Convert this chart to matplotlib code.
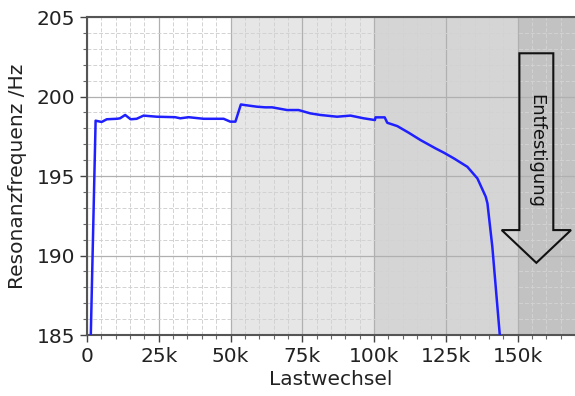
import matplotlib
matplotlib.use("Agg")
import matplotlib.pyplot as plt
from matplotlib.patches import FancyArrow
from matplotlib.ticker import MultipleLocator

# -------------------------------------------------
# Data
# -------------------------------------------------

lastwechsel = [
    1200, 3000, 5100, 6900, 10400, 11500, 13300, 15200, 17300, 19700,
    24300, 30700, 32500, 35400, 40600, 47600, 49900, 51700, 53600, 56300,
    59200, 62100, 64500, 69700, 73700, 77800, 81300, 87100, 91800, 96400,
    100300, 100500, 103700, 104600, 108100, 112100, 116200, 121400, 124300,
    127800, 132500, 136000, 138900, 139500, 141200, 143800, 144300,
]
frequenz = [
    184.0, 198.48, 198.40, 198.57, 198.60, 198.63, 198.84, 198.57, 198.60, 198.80,
    198.73, 198.70, 198.63, 198.70, 198.60, 198.60, 198.42, 198.42, 199.50, 199.43,
    199.36, 199.32, 199.32, 199.15, 199.15, 198.94, 198.84, 198.73, 198.80, 198.63,
    198.52, 198.69, 198.69, 198.35, 198.14, 197.72, 197.26, 196.74, 196.47,
    196.11, 195.58, 194.85, 193.70, 193.28, 190.55, 185.0, 184.0,
]

# shaded phases (start, end, colour)
phase_edges = [50000, 100000, 150000, 170000]
phase_colors = ["#e6e6e6", "#d5d5d5", "#c2c2c2"]

xticks = [0, 25000, 50000, 75000, 100000, 125000, 150000]
xtick_labels = ["0", "25k", "50k", "75k", "100k", "125k", "150k"]
yticks = [185, 190, 195, 200, 205]

# -------------------------------------------------
# Figure
# -------------------------------------------------

fig = plt.figure(figsize=(5.75, 3.96), dpi=100)
ax = fig.add_axes([0.1513, 0.154, 0.8487, 0.803])

for i, c in enumerate(phase_colors):
    ax.axvspan(phase_edges[i], phase_edges[i + 1], color=c, lw=0, zorder=0)

ax.plot(lastwechsel, frequenz, color="#2020ff", lw=1.8, zorder=3)

ax.set_xlim(0, 170000)
ax.set_ylim(185, 205)
ax.set_xticks(xticks)
ax.set_xticklabels(xtick_labels)
ax.set_yticks(yticks)
ax.xaxis.set_minor_locator(MultipleLocator(5000))
ax.yaxis.set_minor_locator(MultipleLocator(1))

ax.grid(which="major", color="#b0b0b0", lw=0.9, zorder=1)
ax.grid(which="minor", color="#d2d2d2", lw=0.7, ls=(0, (4, 2)), zorder=1)
ax.set_axisbelow(True)

ax.tick_params(which="major", length=5, width=1, colors="#444444",
               labelsize=14.5, labelcolor="#222222")
ax.tick_params(which="minor", length=3, width=0.8, colors="#666666")

for side in ["left", "bottom", "top"]:
    ax.spines[side].set_color("#555555")
    ax.spines[side].set_linewidth(1.5)
ax.spines["right"].set_visible(False)

ax.set_xlabel("Lastwechsel", fontsize=14.5, color="#222222", labelpad=3)
ax.set_ylabel("Resonanzfrequenz /Hz", fontsize=14.5, color="#222222", labelpad=7)

# -------------------------------------------------
# Arrow annotation
# -------------------------------------------------

arrow = FancyArrow(0.9208, 0.886, 0, -0.659, width=0.0695, head_width=0.142,
                   head_length=0.103, length_includes_head=True,
                   fill=False, edgecolor="#111111", lw=1.5,
                   transform=ax.transAxes, zorder=4, clip_on=False)
ax.add_patch(arrow)
ax.text(0.9208, 0.58, "Entfestigung", rotation=270, fontsize=13,
        color="#111111", ha="center", va="center", transform=ax.transAxes,
        zorder=5)

fig.savefig("out.png", dpi=100)
